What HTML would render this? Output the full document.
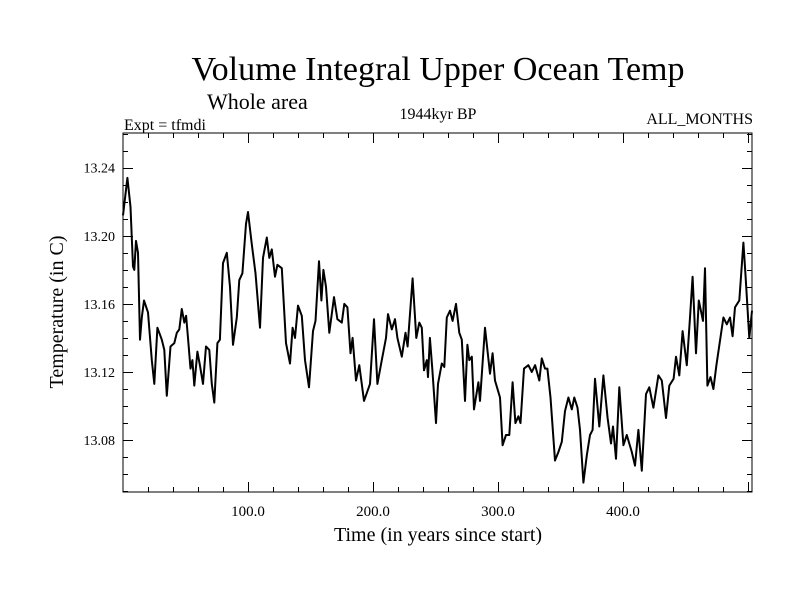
<!DOCTYPE html>
<html><head><meta charset="utf-8"><style>
html,body{margin:0;padding:0;background:#fff;}
svg{display:block;font-family:"Liberation Serif",serif;}
</style></head><body>
<svg id="chart" width="800" height="600" viewBox="0 0 800 600" xmlns="http://www.w3.org/2000/svg">
<text x="438" y="80" font-size="34" text-anchor="middle">Volume Integral Upper Ocean Temp</text>
<text x="207" y="109" font-size="22">Whole area</text>
<text x="124" y="130" font-size="16">Expt = tfmdi</text>
<text x="438" y="119" font-size="16" text-anchor="middle">1944kyr BP</text>
<text x="753" y="124" font-size="16" text-anchor="end">ALL_MONTHS</text>
<text x="438" y="541" font-size="20" text-anchor="middle">Time (in years since start)</text>
<text transform="translate(63,312) rotate(-90)" font-size="20" text-anchor="middle">Temperature (in C)</text>
<g id="axes"></g>
<g id="series"></g>
<rect x="123" y="133" width="629" height="359" fill="none" stroke="#000" stroke-width="1"/>
</svg>
<script>
const years = [0,3.5,6,8,9,10.4,12,13.6,15,16.8,20,23,25,27.5,31,33,35,38,41,43,45,47,49,50.5,52,54,55.5,57,59.5,61.5,64,66.4,69,71,73,75.5,77.5,80,83,85.6,88,91,93,95.5,98.4,100,103,106,109.6,112,115,117,119,121.6,123.5,127,130.4,133.6,135.7,137.6,140,143,145.6,148.8,152,154,156.8,158.7,160.3,162.4,165,168.8,171.5,175,177,179.5,182,183.7,186.4,189,192.8,197.6,200.8,203.5,207,210.4,212,215,217.6,219.5,223,226,227.7,231.7,234.6,237,239,240.8,243,244,245.5,247.5,250.4,252,255,257,259,261.6,263.7,266.4,269,271,273.6,275.5,277,279,280.8,284.3,285.6,289.6,293.6,295.7,297.6,301.6,303.7,306.4,309,311.7,313.9,316.3,318,320.8,324.3,327,329.7,333,335,337.6,339.5,342,345.6,348.3,351,353.6,356.3,359,361,363.6,365.6,368.3,371,373.6,375.7,377.6,381,384.3,387.7,390.4,392,394.4,397,400.3,403,405,407,409.6,412.3,415,418.4,421,424.3,428.3,431,434.4,437,440.5,442.4,445,447.7,451,453.6,455.7,458.4,460.6,464,465.6,467.5,470,472.3,474.7,480.3,483,485.6,487.7,489.6,493,496.3,498,501,503.2];
const temps = [13.212,13.234,13.217,13.182,13.180,13.197,13.190,13.139,13.152,13.162,13.155,13.127,13.113,13.146,13.139,13.133,13.106,13.135,13.137,13.143,13.145,13.157,13.149,13.153,13.140,13.122,13.127,13.112,13.132,13.124,13.113,13.135,13.133,13.113,13.102,13.137,13.139,13.184,13.190,13.170,13.136,13.152,13.174,13.178,13.207,13.214,13.195,13.178,13.146,13.187,13.199,13.187,13.192,13.176,13.183,13.181,13.137,13.125,13.146,13.140,13.159,13.153,13.127,13.111,13.144,13.150,13.185,13.162,13.180,13.170,13.143,13.164,13.151,13.149,13.160,13.158,13.131,13.140,13.115,13.124,13.103,13.113,13.151,13.113,13.127,13.140,13.154,13.145,13.151,13.140,13.129,13.143,13.135,13.175,13.140,13.149,13.146,13.121,13.127,13.117,13.140,13.121,13.090,13.113,13.125,13.123,13.152,13.156,13.150,13.160,13.143,13.139,13.103,13.136,13.127,13.129,13.098,13.114,13.103,13.146,13.119,13.131,13.115,13.105,13.077,13.083,13.083,13.114,13.090,13.094,13.090,13.122,13.124,13.120,13.124,13.115,13.128,13.122,13.122,13.105,13.068,13.073,13.079,13.097,13.105,13.098,13.105,13.099,13.086,13.055,13.071,13.083,13.086,13.116,13.088,13.118,13.093,13.078,13.088,13.069,13.111,13.077,13.083,13.078,13.073,13.065,13.086,13.062,13.107,13.111,13.099,13.118,13.115,13.093,13.112,13.116,13.129,13.118,13.144,13.124,13.152,13.176,13.131,13.162,13.150,13.181,13.112,13.117,13.110,13.124,13.152,13.148,13.152,13.141,13.158,13.162,13.196,13.177,13.140,13.156];
const xTickValues = [100,200,300,400];
const xTickLabels = ["100.0","200.0","300.0","400.0"];
const yTickValues = [13.08,13.12,13.16,13.20,13.24];
const yTickLabels = ["13.08","13.12","13.16","13.20","13.24"];

const X0=123, X1=752, Y0=133, Y1=492;
const xMin=0, xMax=503.2, yMin=13.0495, yMax=13.2604;
function xs(t){return X0+(t-xMin)/(xMax-xMin)*(X1-X0);}
function ys(v){return Y1-(v-yMin)/(yMax-yMin)*(Y1-Y0);}
const NS="http://www.w3.org/2000/svg";
const axes=document.getElementById('axes');
function line(x1,y1,x2,y2,name){
  const l=document.createElementNS(NS,'line');
  l.setAttribute('x1',x1);l.setAttribute('y1',y1);l.setAttribute('x2',x2);l.setAttribute('y2',y2);
  l.setAttribute('stroke','#000');l.setAttribute('stroke-width','1');
  
  
  axes.appendChild(l);
}
// minor x ticks every 20
for(let t=20;t<xMax;t+=20){
  const major = t%100===0;
  const len = major?10:5;
  const x=Math.round(xs(t))+0.5;
  line(x,Y1,x,Y1-len,'x-tick');
  line(x,Y0,x,Y0+len,'x-tick-top');
}
for(let v=13.05;v<yMax;v+=0.01){
  const vv=Math.round(v*100)/100;
  const major = Math.abs(Math.round(vv*100)%4)===0;
  const len = major?10:5;
  const y=Math.round(ys(vv))+0.5;
  line(X0,y,X0+len,y,'y-tick');
  line(X1,y,X1-len,y,'y-tick-right');
}
xTickValues.forEach((t,i)=>{
  const tx=document.createElementNS(NS,'text');
  tx.setAttribute('x',xs(t));tx.setAttribute('y',Y1+24);
  tx.setAttribute('text-anchor','middle');tx.setAttribute('font-size','15');
  tx.textContent=xTickLabels[i];
  
  
  axes.appendChild(tx);
});
yTickValues.forEach((v,i)=>{
  const tx=document.createElementNS(NS,'text');
  tx.setAttribute('x',X0-8);tx.setAttribute('y',ys(v)+5);
  tx.setAttribute('text-anchor','end');tx.setAttribute('font-size','14');
  tx.textContent=yTickLabels[i];
  
  
  axes.appendChild(tx);
});
const p=document.createElementNS(NS,'path');
p.setAttribute('d',years.map((t,i)=>(i?'L':'M')+xs(t).toFixed(1)+' '+ys(temps[i]).toFixed(1)).join(' '));
p.setAttribute('fill','none');p.setAttribute('stroke','#000');p.setAttribute('stroke-width','2');
p.setAttribute('stroke-linejoin','round');


document.getElementById('series').appendChild(p);
</script>
</body></html>
